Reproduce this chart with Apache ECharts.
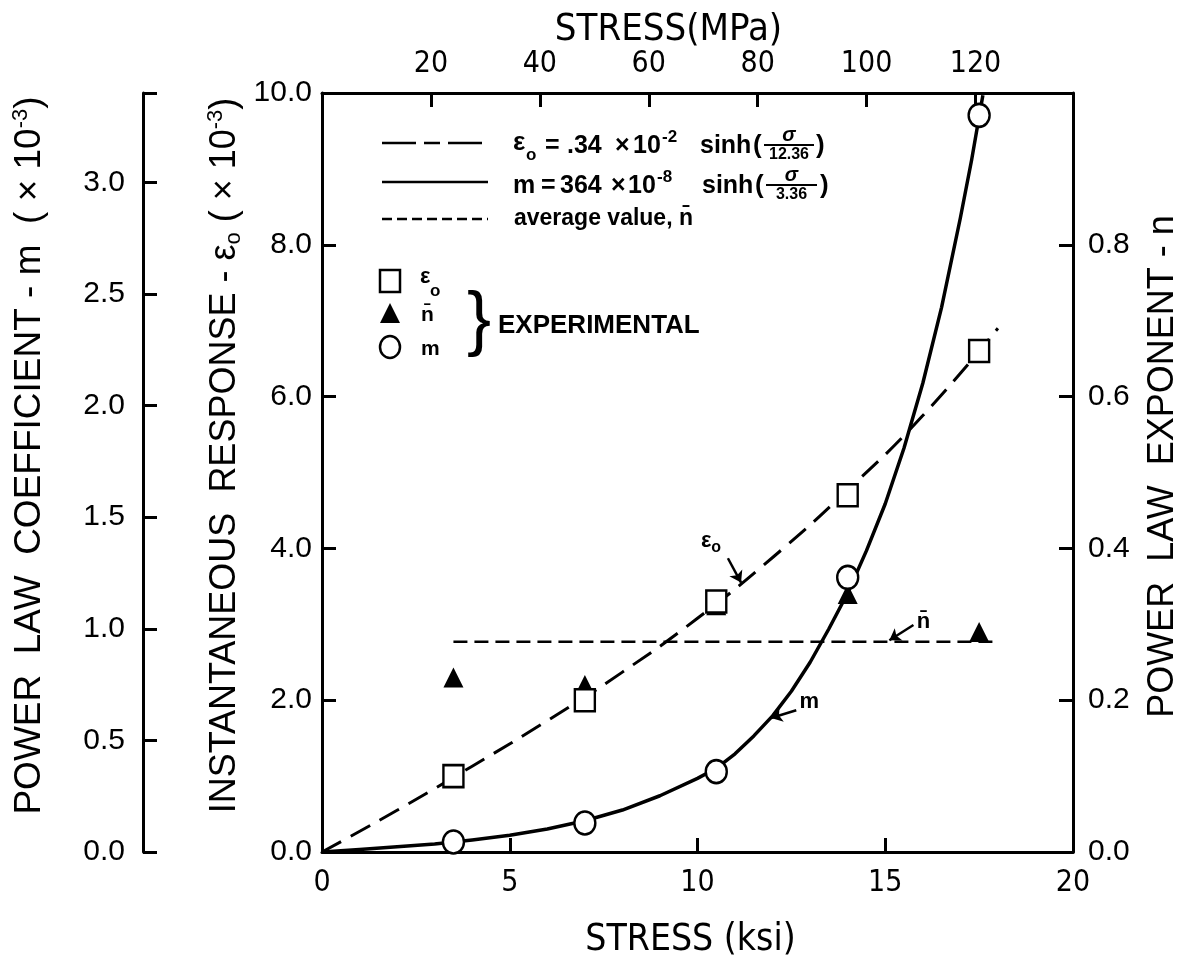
<!DOCTYPE html>
<html><head><meta charset="utf-8">
<script src="https://cdn.jsdelivr.net/npm/echarts@6/dist/echarts.min.js"></script>
<style>html,body{margin:0;padding:0;background:#fff}#c{width:1196px;height:960px}</style>
</head><body><div id="c"></div>
<script>
// ---------- data ----------
const stressKsi = [3.5, 7, 10.5, 14, 17.5];              // experimental stress levels (ksi)
const eps0Exp   = [1.0, 2.0, 3.3, 4.7, 6.6];              // ε0 (×10^-3)
const nExp      = [0.23, 0.22, 0.325, 0.34, 0.29];        // n (right axis)
const mExp      = [0.045, 0.13, 0.36, 1.23, 3.30];        // m (×10^-3, far-left axis)

const eps0CurveX = [0, 2, 4, 6, 8, 10, 12, 14, 16, 18];
const eps0CurveY = [0, 0.55, 1.13, 1.73, 2.37, 3.08, 3.88, 4.77, 5.75, 6.9];

const mCurveX = [0, 1, 2, 3, 4, 5, 6, 7, 8, 9, 10, 10.5, 11, 11.5, 12, 12.5, 13, 13.5, 14, 14.5, 15, 15.5, 16, 16.5, 17, 17.3, 17.6];
const mCurveY = [0, 0.011, 0.023, 0.036, 0.054, 0.075, 0.103, 0.14, 0.188, 0.252, 0.33, 0.375, 0.44, 0.52, 0.61, 0.72, 0.85, 1.0, 1.16, 1.35, 1.56, 1.81, 2.1, 2.44, 2.84, 3.1, 3.39];

const nAvgX = [3.5, 18];
const nAvgY = [0.277, 0.277];

const ksiTicks = [0, 5, 10, 15, 20];
const mpaTicks = [20, 40, 60, 80, 100, 120];
const KSI_TO_MPA = 6.895;

// annotation labels (data coords) and arrows
const epsLabelAt = [10.36, 4.1];   const epsArrow = [[10.81, 3.87], [11.16, 3.55]];
const nLabelAt   = [16.02, 0.303]; const nArrow   = [[15.75, 0.299], [15.11, 0.279]];
const mLabelAt   = [12.98, 0.67];  const mArrow   = [[12.63, 0.635], [11.96, 0.60]];

// ---------- chart ----------
const FONT = "'Liberation Sans', Arial, sans-serif";
const NARROW = "'Liberation Sans Narrow', 'DejaVu Sans Condensed', 'Liberation Sans', sans-serif";
const BLACK = '#000';

function zip(a, b) { return a.map((v, i) => [v, b[i]]); }

const axisLineStyle = { show: true, onZero: false, lineStyle: { color: BLACK, width: 3 } };
const tickStyle = { show: true, inside: true, length: 14, lineStyle: { color: BLACK, width: 3 } };
const richSS = {
  sup: { fontSize: 22, verticalAlign: 'top', fontFamily: FONT, color: BLACK, lineHeight: 40 },
  sub: { fontSize: 22, verticalAlign: 'bottom', fontFamily: FONT, color: BLACK, lineHeight: 40 }
};

const arrowMark = (pts) => ({
  silent: true, symbol: ['none', 'arrow'], symbolSize: 11, animation: false,
  lineStyle: { type: 'solid', color: BLACK, width: 2.5 },
  label: { show: false },
  data: [[{ coord: pts[0] }, { coord: pts[1] }]]
});
const labelMark = (at, text) => ({
  silent: true, symbol: 'circle', symbolSize: 1, itemStyle: { color: 'rgba(0,0,0,0)' },
  label: {
    show: true, position: 'inside', formatter: text, color: BLACK,
    fontFamily: FONT, fontWeight: 'bold', fontSize: 22,
    rich: { o: { fontSize: 16, fontWeight: 'bold', verticalAlign: 'bottom', color: BLACK, lineHeight: 30, fontFamily: FONT } }
  },
  data: [{ coord: at }]
});

const option = {
  animation: false,
  backgroundColor: '#fff',
  grid: { left: 322, right: 123, top: 93, bottom: 108, containLabel: false, outerBoundsMode: 'none' },
  xAxis: [
    {
      type: 'value', min: 0, max: 20, interval: 5, position: 'bottom',
      axisLine: axisLineStyle, axisTick: tickStyle, splitLine: { show: false },
      axisLabel: { color: BLACK, fontSize: 30, margin: 16, fontFamily: NARROW,
        formatter: v => ksiTicks.includes(v) ? String(v) : '' },
      name: 'STRESS (ksi)', nameLocation: 'middle', nameGap: 88, nameMoveOverlap: false,
      nameTextStyle: { fontSize: 37, fontFamily: NARROW, color: BLACK, verticalAlign: 'middle', align: 'center', padding: [0, 14, 0, 0] }
    },
    {
      type: 'value', min: 0, max: 20 * KSI_TO_MPA, interval: 20, position: 'top',
      axisLine: axisLineStyle, axisTick: tickStyle, splitLine: { show: false },
      axisLabel: { color: BLACK, fontSize: 30, margin: 14, fontFamily: NARROW,
        formatter: v => mpaTicks.includes(Math.round(v)) && Math.abs(v - Math.round(v)) < 1e-6 ? String(Math.round(v)) : '' },
      name: 'STRESS(MPa)', nameLocation: 'middle', nameGap: 63, nameMoveOverlap: false,
      nameTextStyle: { fontSize: 38, fontFamily: NARROW, color: BLACK, verticalAlign: 'middle', align: 'center', padding: [0, 58, 0, 0] }
    }
  ],
  yAxis: [
    {
      type: 'value', min: 0, max: 10, interval: 2, position: 'left',
      axisLine: axisLineStyle, axisTick: tickStyle, splitLine: { show: false },
      axisLabel: { color: BLACK, fontSize: 30, margin: 10, fontFamily: FONT, formatter: v => v.toFixed(1) },
      name: 'INSTANTANEOUS  RESPONSE - ε{sub|o} ( × 10{sup|-3})', nameLocation: 'middle', nameRotate: 90, nameGap: 97, nameMoveOverlap: false,
      nameTextStyle: { fontSize: 36, fontFamily: FONT, color: BLACK, verticalAlign: 'middle', align: 'center', rich: richSS, padding: [0, 0, 0, 34] }
    },
    {
      type: 'value', min: 0, max: 3.4, interval: 0.5, position: 'left', offset: 179,
      axisLine: axisLineStyle, axisTick: tickStyle, splitLine: { show: false },
      axisLabel: { color: BLACK, fontSize: 30, margin: 18, fontFamily: FONT,
        formatter: v => Math.abs(v * 2 - Math.round(v * 2)) < 1e-6 ? v.toFixed(1) : '' },
      name: 'POWER  LAW  COEFFICIENT - m  ( × 10{sup|-3})', nameLocation: 'middle', nameRotate: 90, nameGap: 113, nameMoveOverlap: false,
      nameTextStyle: { fontSize: 37, fontFamily: FONT, color: BLACK, verticalAlign: 'middle', align: 'center', rich: richSS, padding: [0, 0, 0, 34] }
    },
    {
      type: 'value', min: 0, max: 1.0, interval: 0.2, position: 'right',
      axisLine: axisLineStyle, axisTick: tickStyle, splitLine: { show: false },
      axisLabel: { color: BLACK, fontSize: 30, margin: 15, fontFamily: FONT,
        formatter: v => v < 0.999 ? v.toFixed(1) : '' },
      name: 'POWER  LAW  EXPONENT - n', nameLocation: 'middle', nameRotate: 90, nameGap: 90, nameMoveOverlap: false,
      nameTextStyle: { fontSize: 36, fontFamily: FONT, color: BLACK, verticalAlign: 'middle', align: 'center', padding: [0, 0, 0, 12] }
    }
  ],
  series: [
    {
      name: 'eps0 fit', type: 'line', xAxisIndex: 0, yAxisIndex: 0, smooth: true, symbol: 'none', z: 2,
      lineStyle: { color: BLACK, width: 3, type: [22, 11] },
      data: zip(eps0CurveX, eps0CurveY),
      markLine: arrowMark(epsArrow),
      markPoint: labelMark(epsLabelAt, '{a|ε}{o|o}')
    },
    {
      name: 'm fit', type: 'line', xAxisIndex: 0, yAxisIndex: 1, smooth: false, symbol: 'none', z: 2,
      lineStyle: { color: BLACK, width: 3.5, join: 'round' },
      data: zip(mCurveX, mCurveY),
      markLine: arrowMark(mArrow),
      markPoint: labelMark(mLabelAt, 'm')
    },
    {
      name: 'n average', type: 'line', xAxisIndex: 0, yAxisIndex: 2, symbol: 'none', z: 2,
      lineStyle: { color: BLACK, width: 2.5, type: [14, 7] },
      data: zip(nAvgX, nAvgY),
      markLine: arrowMark(nArrow),
      markPoint: labelMark(nLabelAt, 'n\u0304')
    },
    {
      name: 'n exp', type: 'scatter', xAxisIndex: 0, yAxisIndex: 2, symbol: 'triangle', symbolSize: [20, 20], z: 4,
      itemStyle: { color: BLACK, opacity: 1 },
      data: zip(stressKsi, nExp)
    },
    {
      name: 'eps0 exp', type: 'scatter', xAxisIndex: 0, yAxisIndex: 0, symbol: 'rect', symbolSize: [20, 22], z: 5,
      itemStyle: { color: '#fff', borderColor: BLACK, borderWidth: 2.5, opacity: 1 },
      data: zip(stressKsi, eps0Exp)
    },
    {
      name: 'm exp', type: 'scatter', xAxisIndex: 0, yAxisIndex: 1, symbol: 'circle', symbolSize: [21, 23], z: 5,
      itemStyle: { color: '#fff', borderColor: BLACK, borderWidth: 2.5, opacity: 1 },
      data: zip(stressKsi, mExp)
    }
  ]
};

// ---------- in-plot legend (graphics, placed like the printed key) ----------
const LS = 25;
function piece(t, x, y, size, extra) {
  return { type: 'text', x: x, y: y, style: Object.assign({ text: t, font: 'bold ' + (size || LS) + 'px ' + FONT, fill: BLACK, textAlign: 'left', textVerticalAlign: 'middle' }, extra || {}) };
}
function frac(num, den, x1, x2, y) {
  const cx = (x1 + x2) / 2;
  return [
    { type: 'text', x: cx, y: y - 11, style: { text: num, font: 'bold italic 20px ' + FONT, fill: BLACK, textAlign: 'center', textVerticalAlign: 'middle' } },
    { type: 'line', shape: { x1: x1, y1: y - 1, x2: x2, y2: y - 1 }, style: { stroke: BLACK, lineWidth: 2 } },
    { type: 'text', x: cx, y: y + 9, style: { text: den, font: 'bold 16px ' + FONT, fill: BLACK, textAlign: 'center', textVerticalAlign: 'middle' } }
  ];
}
const graphics = [];
// line samples
graphics.push({ type: 'line', shape: { x1: 382, y1: 143, x2: 488, y2: 143 }, style: { stroke: BLACK, lineWidth: 2.5, lineDash: [34, 8, 16, 8] } });
graphics.push({ type: 'line', shape: { x1: 382, y1: 182, x2: 488, y2: 182 }, style: { stroke: BLACK, lineWidth: 2.5 } });
graphics.push({ type: 'line', shape: { x1: 382, y1: 219, x2: 488, y2: 219 }, style: { stroke: BLACK, lineWidth: 2.5, lineDash: [10, 5] } });
// line 1
let y1 = 146;
graphics.push(piece('ε', 513, y1 - 3, 26), piece('o', 526, y1 + 9, 17), piece('=', 545, y1), piece('.34', 567, y1),
  piece('×', 615, y1), piece('10', 633, y1), piece('-2', 662, y1 - 9, 17), piece('sinh', 700, y1), piece('(', 753, y1, 26),
  ...frac('σ', '12.36', 764, 814, y1), piece(')', 816, y1, 26));
// line 2
let y2 = 186;
graphics.push(piece('m', 513, y2), piece('=', 541, y2), piece('364', 560, y2),
  piece('×', 611, y2), piece('10', 628, y2), piece('-8', 657, y2 - 9, 17), piece('sinh', 702, y2), piece('(', 755, y2, 26),
  ...frac('σ', '3.36', 766, 817, y2), piece(')', 820, y2, 26));
// line 3
graphics.push(piece('average value, n\u0304', 514, 219, 23));
// experimental markers
graphics.push({ type: 'rect', x: 390, y: 281, shape: { x: -10, y: -11, width: 20, height: 22 }, style: { fill: '#fff', stroke: BLACK, lineWidth: 2.5 } });
graphics.push({ type: 'polygon', x: 390, y: 314, shape: { points: [[0, -11], [10, 9], [-10, 9]] }, style: { fill: BLACK } });
graphics.push({ type: 'ellipse', x: 390, y: 347, shape: { cx: 0, cy: 0, rx: 10, ry: 11 }, style: { fill: '#fff', stroke: BLACK, lineWidth: 2.5 } });
graphics.push(piece('ε', 420, 277, 22), piece('o', 430, 291, 17));
graphics.push(piece('n\u0304', 421, 315, 21));
graphics.push(piece('m', 421, 349, 21));
graphics.push({ type: 'text', x: 479, y: 322, style: { text: '}', font: '72px ' + FONT, fill: BLACK, textAlign: 'center', textVerticalAlign: 'middle' } });
graphics.push(piece('EXPERIMENTAL', 498, 326, 26));
option.graphic = graphics;

const chart = echarts.init(document.getElementById('c'), null, { renderer: 'canvas' });
chart.setOption(option);
</script></body></html>
